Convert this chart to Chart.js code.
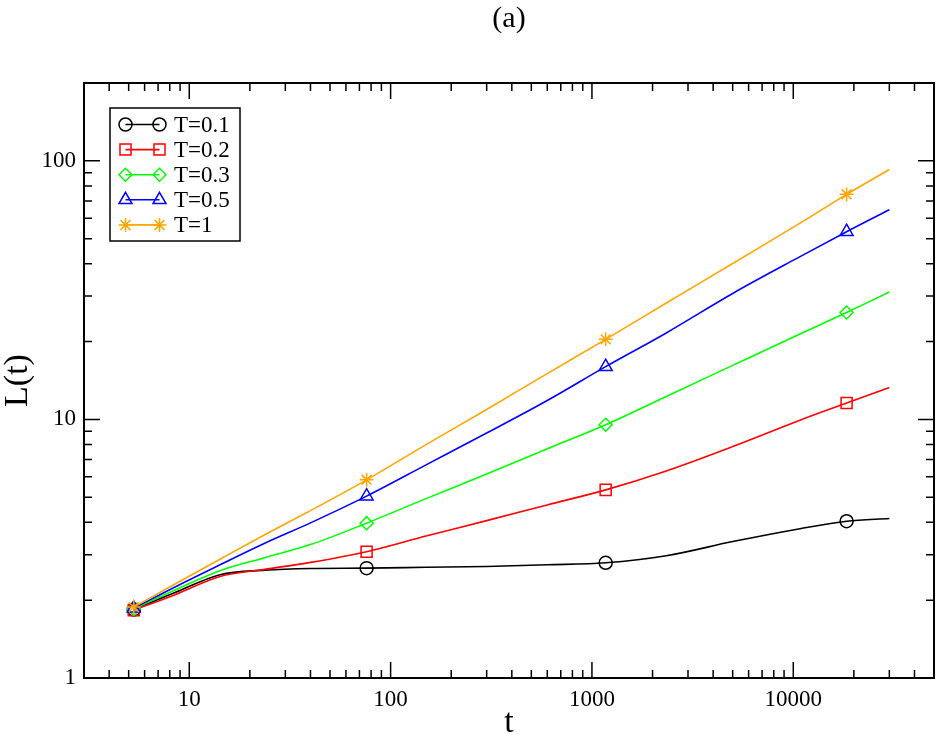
<!DOCTYPE html>
<html><head><meta charset="utf-8">
<script src="https://cdn.jsdelivr.net/npm/chart.js@4.4.1/dist/chart.umd.min.js"></script>
<style>html,body{margin:0;padding:0;background:#fff;overflow:hidden}#wrap{width:938px;height:735px}</style>
</head><body><div id="wrap"><canvas id="c" width="938" height="735"></canvas></div>
<script>
// ---- data ----
const times  = [5.3, 8.5, 14.2, 23.7, 40, 76, 150, 300, 600, 1170, 2340, 5000, 10800, 18400, 30000];
const L_T01  = [1.84, 2.14, 2.51, 2.61, 2.65, 2.66, 2.68, 2.70, 2.74, 2.79, 2.97, 3.37, 3.78, 4.04, 4.14];
const L_T02  = [1.83, 2.10, 2.47, 2.63, 2.80, 3.08, 3.54, 4.06, 4.67, 5.34, 6.32, 7.85, 9.93, 11.57, 13.3];
const L_T03  = [1.85, 2.19, 2.60, 2.92, 3.28, 3.97, 4.94, 6.15, 7.70, 9.54, 12.27, 16.18, 21.4, 25.9, 31.1];
const L_T05  = [1.86, 2.25, 2.74, 3.32, 3.98, 5.05, 6.67, 8.86, 11.84, 16.0, 21.6, 30.7, 42.6, 53.2, 64.7];
const L_T1   = [1.88, 2.31, 2.88, 3.58, 4.44, 5.84, 7.99, 10.93, 15.04, 20.4, 28.2, 40.1, 57.4, 74.2, 92.6];
const markerIndex = [0, 5, 9, 13];
const seriesLabels = ['T=0.1', 'T=0.2', 'T=0.3', 'T=0.5', 'T=1'];
const xTickLabels = [10, 100, 1000, 10000];
const yTickLabels = [1, 10, 100];
const titleText = '(a)';
const xTitle = 't';
const yTitle = 'L(t)';

// ---- styles ----
const seriesValues = [L_T01, L_T02, L_T03, L_T05, L_T1];
const seriesColors = ['#000000', '#ff0000', '#00ff00', '#0000ff', '#ffa500'];
const seriesMarkers = ['circle', 'rect', 'rectRot', 'triangle', 'star'];
const markerRadius = [6.5, 7.8, 6.5, 7.5, 7];
const FONT = "'Liberation Serif', 'Times New Roman', serif";

const datasets = seriesValues.map((vals, s) => ({
  label: seriesLabels[s],
  data: vals.map((v, i) => ({x: times[i], y: v})),
  borderColor: seriesColors[s],
  backgroundColor: 'rgba(0,0,0,0)',
  pointBackgroundColor: 'rgba(0,0,0,0)',
  pointBorderColor: seriesColors[s],
  pointBorderWidth: 1.5,
  borderWidth: 1.6,
  pointStyle: seriesMarkers[s],
  pointRadius: ctx => markerIndex.includes(ctx.dataIndex) ? markerRadius[s] : 0,
  pointHoverRadius: ctx => markerIndex.includes(ctx.dataIndex) ? markerRadius[s] : 0,
  cubicInterpolationMode: 'monotone',
  order: seriesValues.length - s,
  fill: false
}));

function isLabel(list, v) { return list.some(t => Math.abs(t - v) < 1e-6 * t); }

function drawMarker(ctx, style, r, x, y, color) {
  ctx.save();
  ctx.strokeStyle = color; ctx.fillStyle = 'rgba(0,0,0,0)'; ctx.lineWidth = 1.5;
  if (Chart.helpers && Chart.helpers.drawPoint) {
    Chart.helpers.drawPoint(ctx, {pointStyle: style, radius: r, rotation: 0, borderWidth: 1.5}, x, y);
  } else {
    ctx.beginPath(); ctx.arc(x, y, r, 0, Math.PI * 2); ctx.stroke();
  }
  ctx.restore();
}

const decor = {
  id: 'decor',
  afterDraw(chart) {
    const {ctx, chartArea: a, scales} = chart;
    const xs = scales.x, ys = scales.y;
    ctx.save();
    ctx.strokeStyle = '#000';
    ctx.lineWidth = 2;
    ctx.strokeRect(a.left, a.top, a.right - a.left, a.bottom - a.top);
    ctx.lineWidth = 1.5;
    const major = 16, minor = 8;
    function each(scale, cb) {
      const lo = Math.floor(Math.log10(scale.min)), hi = Math.ceil(Math.log10(scale.max));
      for (let k = lo; k <= hi; k++) for (let d = 1; d <= 9; d++) {
        const v = d * Math.pow(10, k);
        if (v < scale.min * 0.999 || v > scale.max * 1.001) continue;
        cb(scale.getPixelForValue(v), d === 1 ? major : minor);
      }
    }
    ctx.beginPath();
    each(xs, (p, len) => {
      ctx.moveTo(p, a.bottom); ctx.lineTo(p, a.bottom - len);
      ctx.moveTo(p, a.top); ctx.lineTo(p, a.top + len);
    });
    each(ys, (p, len) => {
      ctx.moveTo(a.left, p); ctx.lineTo(a.left + len, p);
      ctx.moveTo(a.right, p); ctx.lineTo(a.right - len, p);
    });
    ctx.stroke();

    // titles
    ctx.fillStyle = '#000';
    ctx.textAlign = 'center';
    ctx.textBaseline = 'alphabetic';
    ctx.font = '30px ' + FONT;
    ctx.fillText(titleText, (a.left + a.right) / 2, 27);
    ctx.font = '34px ' + FONT;
    ctx.fillText(xTitle, (a.left + a.right) / 2, 732);
    ctx.save();
    ctx.translate(27, (a.top + a.bottom) / 2);
    ctx.rotate(-Math.PI / 2);
    ctx.fillText(yTitle, 0, 0);
    ctx.restore();

    // legend
    const bx = 110, by = 108, bw = 130, bh = 133;
    ctx.fillStyle = '#fff';
    ctx.fillRect(bx, by, bw, bh);
    ctx.strokeStyle = '#000';
    ctx.lineWidth = 1.5;
    ctx.strokeRect(bx, by, bw, bh);
    ctx.font = '23px ' + FONT;
    ctx.textAlign = 'left';
    ctx.textBaseline = 'middle';
    seriesLabels.forEach((lab, i) => {
      const y = 124.5 + i * 25.1;
      ctx.strokeStyle = seriesColors[i];
      ctx.lineWidth = 1.6;
      ctx.beginPath(); ctx.moveTo(125.5, y); ctx.lineTo(159.5, y); ctx.stroke();
      drawMarker(ctx, seriesMarkers[i], markerRadius[i], 125.5, y, seriesColors[i]);
      drawMarker(ctx, seriesMarkers[i], markerRadius[i], 159.5, y, seriesColors[i]);
      ctx.fillStyle = '#000';
      ctx.fillText(lab, 174, y + 1);
    });
    ctx.restore();
  }
};

const hiddenGrid = {display: true, drawOnChartArea: false, drawTicks: true, tickLength: 6, color: 'rgba(0,0,0,0)'};

new Chart(document.getElementById('c'), {
  type: 'line',
  data: {datasets},
  options: {
    responsive: false,
    animation: false,
    devicePixelRatio: 1,
    layout: {autoPadding: false, padding: {top: 83, right: 4, left: 0, bottom: 0}},
    plugins: {legend: {display: false}, tooltip: {enabled: false}, title: {display: false}},
    scales: {
      x: {
        type: 'logarithmic', min: 3, max: 50000,
        grid: hiddenGrid,
        border: {display: false},
        afterFit: s => { s.height = 57; },
        ticks: {
          autoSkip: false, maxRotation: 0, padding: 2, color: '#000',
          font: {family: FONT, size: 23},
          callback: v => isLabel(xTickLabels, v) ? String(v) : ''
        }
      },
      y: {
        type: 'logarithmic', min: 1, max: 200,
        grid: hiddenGrid,
        border: {display: false},
        afterFit: s => { s.width = 84; },
        ticks: {
          autoSkip: false, padding: 2, color: '#000',
          font: {family: FONT, size: 23},
          callback: v => isLabel(yTickLabels, v) ? String(v) : ''
        }
      }
    }
  },
  plugins: [decor]
});
</script>
</body></html>
